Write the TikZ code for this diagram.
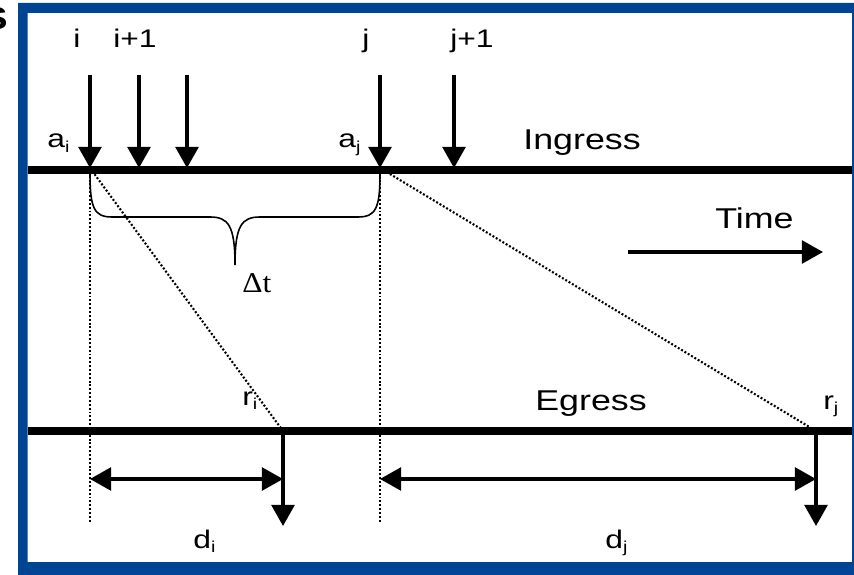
\documentclass[tikz,border=0pt]{standalone}
\usepackage{fontspec}
\setmainfont{Liberation Sans}[FakeStretch=1.25]
\newfontfamily\serif{Liberation Serif}[FakeStretch=1.1]
\usetikzlibrary{arrows.meta}
\definecolor{cadre}{rgb}{0.0, 0.27, 0.58}
\newcommand{\indice}[1]{\raisebox{-2.3pt}{\fontsize{9}{9}\selectfont #1}}
\tikzset{
  fleche/.style={line width=1.8pt, -{Triangle[length=12pt,width=13pt]}},
  double fleche/.style={line width=1.8pt, {Triangle[length=12pt,width=13pt]}-{Triangle[length=12pt,width=13pt]}},
  pointille/.style={line width=1.2pt, dash pattern=on 1.1pt off 1.1pt},
  axe/.style={line width=4.2pt},
  etiq/.style={anchor=base west, inner sep=0pt, font=\fontsize{14.5}{14.5}\selectfont},
  titre/.style={anchor=base west, inner sep=0pt, font=\fontsize{16.3}{16.3}\selectfont},
}

\begin{document}
\begin{tikzpicture}[x=0.02cm, y=-0.02cm]
        \useasboundingbox (0,0) rectangle (854,574);

        % Cadre
        \fill[cadre, even odd rule] (18,3) rectangle (880,600) (27.5,13) rectangle (852,562);
        \node[anchor=base east, inner sep=0pt, font=\bfseries\fontsize{18}{18}\selectfont] (lettre) at (8,30) {S};

        % Lignes Ingress et Egress
        \coordinate (ingG) at (27.5,170);
        \coordinate (ingD) at (852,170);
        \coordinate (egrG) at (27.5,431);
        \coordinate (egrD) at (852,431);
        \draw[axe] (ingG) -- (ingD);
        \draw[axe] (egrG) -- (egrD);
        \node[titre] (ingress) at (523,150) {Ingress};
        \node[titre] (egress) at (535,410) {Egress};

        % Arrivees
        \coordinate (hi) at (90,75);    \coordinate (ai) at (90,168);
        \coordinate (hip) at (139,75);  \coordinate (aip) at (139,168);
        \coordinate (hipp) at (187,75); \coordinate (aipp) at (187,168);
        \coordinate (hj) at (380,75);   \coordinate (aj) at (380,168);
        \coordinate (hjp) at (454,75);  \coordinate (ajp) at (454,168);
        \draw[fleche] (hi) -- (ai);
        \draw[fleche] (hip) -- (aip);
        \draw[fleche] (hipp) -- (aipp);
        \draw[fleche] (hj) -- (aj);
        \draw[fleche] (hjp) -- (ajp);
        \node[etiq, anchor=base] (li) at (77,48) {i};
        \node[etiq, anchor=base] (lip) at (135,48) {i+1};
        \node[etiq, anchor=base] (lj) at (366,48) {j};
        \node[etiq, anchor=base] (ljp) at (472,48) {j+1};
        \node[etiq] (lai) at (47,148) {a\indice{i}};
        \node[etiq] (laj) at (338,148) {a\indice{j}};

        % Accolade
        \draw[line width=0.9pt] (90,173) .. controls (90,208) and (94,217) .. (112,217) -- (210,217)
          .. controls (228,217) and (235,225) .. (235,265)
          .. controls (235,225) and (242,217) .. (260,217) -- (358,217)
          .. controls (376,217) and (380,208) .. (380,173);
        \node[anchor=base west, inner sep=0pt, font=\serif\fontsize{16.3}{16.3}\selectfont] (dt) at (242,292) {Δt};

        % Temps
        \coordinate (t0) at (628,252);
        \coordinate (t1) at (823,252);
        \draw[fleche] (t0) -- (t1);
        \node[titre] (temps) at (715,228) {Time};

        % Pointilles
        \coordinate (ri) at (283,431);
        \coordinate (rj) at (816,431);
        \coordinate (bi) at (90,522);
        \coordinate (bj) at (380,522);
        \draw[pointille] (ai) -- (ri);
        \draw[pointille] (aj) -- (rj);
        \draw[pointille] (ai) -- (bi);
        \draw[pointille] (aj) -- (bj);
        \node[etiq] (lri) at (242,405) {r\indice{i}};
        \node[etiq] (lrj) at (823,409) {r\indice{j}};

        % Departs
        \coordinate (si) at (283,526);
        \coordinate (sj) at (816,526);
        \draw[fleche] (ri) -- (si);
        \draw[fleche] (rj) -- (sj);

        % Delais
        \coordinate (gi) at (90,479);  \coordinate (di) at (283,479);
        \coordinate (gj) at (380,479); \coordinate (dj) at (816,479);
        \draw[double fleche] (gi) -- (di);
        \draw[double fleche] (gj) -- (dj);
        \node[etiq] (ldi) at (193,548) {d\indice{i}};
        \node[etiq] (ldj) at (605,548) {d\indice{j}};
    \end{tikzpicture}
\end{document}
